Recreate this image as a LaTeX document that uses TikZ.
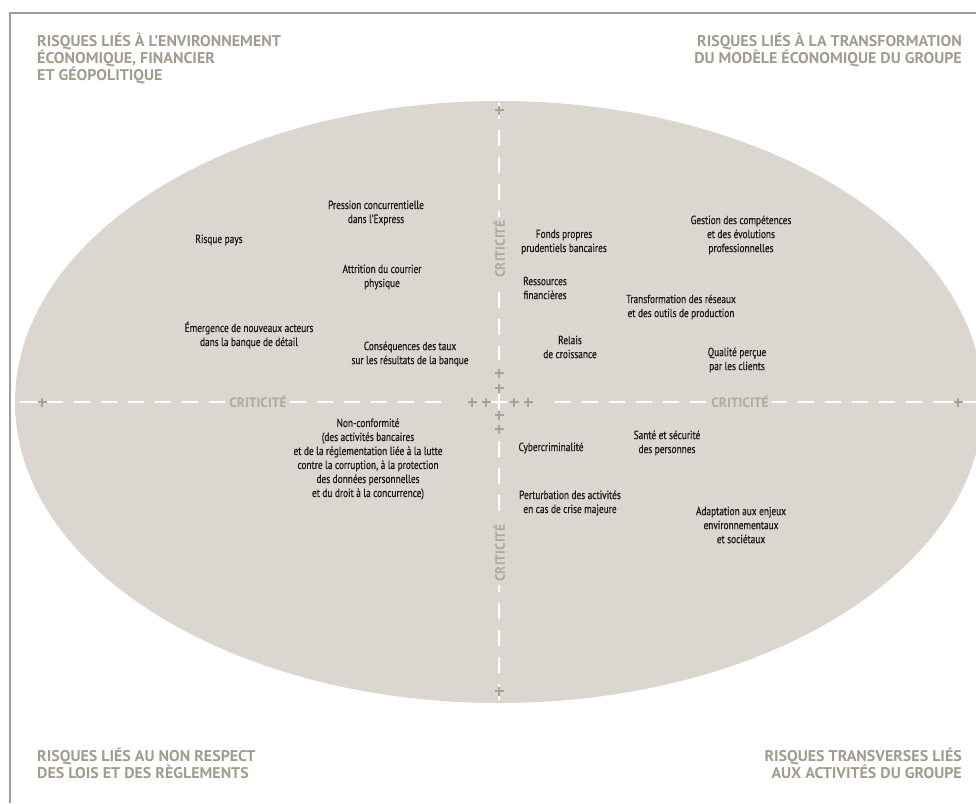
\documentclass[tikz,border=0pt]{standalone}
\usepackage{fontspec}
\setmainfont{PT Sans}
\newfontfamily\labfont{PT Sans}[FakeStretch=0.79, FakeBold=0.6]
\newfontfamily\headfont{PT Sans Bold}[FakeStretch=1.03]
\newfontfamily\critfont{PT Sans Bold}[FakeStretch=1.0]
\definecolor{ellfill}{HTML}{DBD7D0}
\definecolor{framec}{HTML}{A39D92}
\definecolor{headc}{HTML}{A39C8E}
\definecolor{critc}{HTML}{AEAAA1}
\definecolor{plusc}{HTML}{A8A292}
\definecolor{txtc}{HTML}{1A1A1A}
\tikzset{
  head/.style={text=headc, font=\headfont\fontsize{15.5}{17}\selectfont, inner sep=0pt},
  lab/.style={text=txtc, font=\labfont\fontsize{11.8}{14}\selectfont, align=center, inner sep=0pt},
  crit/.style={text=critc, font=\critfont\fontsize{13.5}{14}\selectfont, fill=ellfill, inner xsep=3pt, inner ysep=1pt},
  axis/.style={draw=white, line width=2pt, dash pattern=on 16pt off 11pt},
  framel/.style={draw=framec, line width=1.6pt},
  plusmark/.style={draw=plusc, line width=1.6pt}
}
\newcommand{\plusat}[1]{\draw[plusmark] ($(#1)+(-4.5,0)$) -- ($(#1)+(4.5,0)$) ($(#1)+(0,-4.5)$) -- ($(#1)+(0,4.5)$);}
\usetikzlibrary{calc}
\begin{document}
\begin{tikzpicture}[x=1pt,y=-1pt]
\useasboundingbox (0,0) rectangle (976,803);
% frame
\coordinate (fTR) at (976,13);
\coordinate (fTL) at (10,13);
\coordinate (fBL) at (10,803);
\draw[framel] (fTR) -- (fTL) -- (fBL);
% ellipse
\coordinate (c) at (499,402);
\fill[ellfill] (c) ellipse [x radius=484, y radius=301];
% axes
\coordinate (hl1) at (20,402);
\coordinate (hl2) at (452,402);
\coordinate (hr1) at (545,402);
\coordinate (hr2) at (976,402);
\coordinate (vt1) at (499,103);
\coordinate (vt2) at (499,360);
\coordinate (vb1) at (499,436);
\coordinate (vb2) at (499,700);
\draw[axis] (hl1) -- (hl2);
\draw[axis] (hr2) -- (hr1);
\draw[axis] (vt1) -- (vt2);
\draw[axis] (vb2) -- (vb1);
\draw[draw=white, line width=2pt] (20,402) -- (53,402);
\draw[draw=white, line width=2pt] (946,402) -- (976,402);
\draw[draw=white, line width=2pt] ($(c)+(-8,0)$) -- ($(c)+(8,0)$) ($(c)+(0,-8)$) -- ($(c)+(0,8)$);
% plus marks
\coordinate (p1) at (42,402);
\coordinate (p2) at (958,402);
\coordinate (p3) at (472,402);
\coordinate (p4) at (486,402);
\coordinate (p5) at (514,402);
\coordinate (p6) at (528,402);
\coordinate (p7) at (499,373);
\coordinate (p8) at (499,388);
\coordinate (p9) at (499,415);
\coordinate (p10) at (499,429);
\coordinate (p11) at (499,110);
\coordinate (p12) at (499,691);
\foreach \p in {p1,p2,p3,p4,p5,p6,p7,p8,p9,p10,p11,p12} {\plusat{\p}}
% criticite labels
\node[crit] (cL) at (258,402) {CRITICITÉ};
\node[crit] (cR) at (740,402) {CRITICITÉ};
\node[crit, rotate=90] (cT) at (499,249) {CRITICITÉ};
\node[crit, rotate=90] (cB) at (499,553) {CRITICITÉ};
% headings
\node[head, anchor=north west, align=left] (hTL) at (37,33) {RISQUES LIÉS À L’ENVIRONNEMENT\\ÉCONOMIQUE, FINANCIER\\ET GÉOPOLITIQUE};
\node[head, anchor=north east, align=right] (hTR) at (962,33) {RISQUES LIÉS À LA TRANSFORMATION\\DU MODÈLE ÉCONOMIQUE DU GROUPE};
\node[head, anchor=north west, align=left] (hBL) at (37,748) {RISQUES LIÉS AU NON RESPECT\\DES LOIS ET DES RÈGLEMENTS};
\node[head, anchor=north east, align=right] (hBR) at (962,748) {RISQUES TRANSVERSES LIÉS\\AUX ACTIVITÉS DU GROUPE};
% risk labels
\node[lab] (l1) at (219,240) {Risque pays};
\node[lab] (l2) at (376,213) {Pression concurrentielle\\dans l’Express};
\node[lab] (l3) at (382,277) {Attrition du courrier\\physique};
\node[lab] (l4) at (249,335) {Émergence de nouveaux acteurs\\dans la banque de détail};
\node[lab] (l5) at (410,354) {Conséquences des taux\\sur les résultats de la banque};
\node[lab] (l6) at (564,242) {Fonds propres\\prudentiels bancaires};
\node[lab] (l7) at (741,235) {Gestion des compétences\\et des évolutions\\professionnelles};
\node[lab] (l8) at (545,288) {Ressources\\financières};
\node[lab] (l9) at (681,307) {Transformation des réseaux\\et des outils de production};
\node[lab] (l10) at (570,347) {Relais\\de croissance};
\node[lab] (l11) at (737,360) {Qualité perçue\\par les clients};
\node[lab] (l12) at (368,459) {Non-conformité\\(des activités bancaires\\et de la réglementation liée à la lutte\\contre la corruption, à la protection\\des données personnelles\\et du droit à la concurrence)};
\node[lab] (l13) at (551,448) {Cybercriminalité};
\node[lab] (l14) at (667,443) {Santé et sécurité\\des personnes};
\node[lab] (l15) at (570,503) {Perturbation des activités\\en cas de crise majeure};
\node[lab] (l16) at (741,525) {Adaptation aux enjeux\\environnementaux\\et sociétaux};
\end{tikzpicture}
\end{document}
